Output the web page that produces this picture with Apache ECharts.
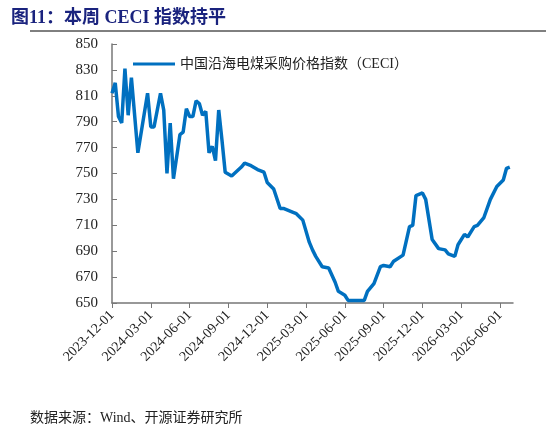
<!DOCTYPE html>
<html><head><meta charset="utf-8">
<script src="https://cdn.jsdelivr.net/npm/echarts@6/dist/echarts.min.js"></script>
<style>html,body{margin:0;padding:0;background:#fff}#c{width:546px;height:436px}</style>
</head><body><div id="c"></div>
<script>
// category axis: 4 slots per month (1st, 8th, 16th, 23rd), 2023-12 .. 2026-07-01
var slotDays = ['01','08','16','23'];
var categories = [];
(function(){var y=2023,m=12;while(true){for(var k=0;k<4;k++){var d=y+'-'+(m<10?'0'+m:m)+'-'+slotDays[k];categories.push(d);if(y===2026&&m===7)return;}m++;if(m>12){m=1;y++;}}})();
var pointIdx = [0,1,2,3,4,5,6,8,11,12,13,15,16,17,18,19,21,22,23,24,25,26,27,28,29,30,31,32,33,34,35,37,40,41,43,45,47,48,50,52,53,56,57,59,61,62,63,65,67,69,70,72,73,78,79,81,83,84,86,87,90,92,93,94,96,97,99,101,103,104,106,107,109,110,112,113,115,117,119,121,122,123];
var values = [812,820,794,789,831,795,824,766,812,786,786,812,799,750,789,746,780,782,800,794,794,806,804,795,798,766,771,760,799,776,751,748,755,758,756,753,751,743,738,723,723,720,719,714,697,691,686,678,677,666,659,656,652,652,659,665,678,679,678,682,687,709,710,733,735,730,699,692,691,688,686,695,703,701,709,710,716,730,740,745,754,755];
var yTicks = [650,850,20];
var seriesName = '中国沿海电煤采购价格指数（CECI）';
var chart = echarts.init(document.getElementById('c'));
var serif = '"Liberation Serif","Times New Roman",serif';
chart.setOption({
  animation:false,
  title:{text:'图11：本周 CECI 指数持平',left:6,top:4,textStyle:{color:'#1a237e',fontSize:18,fontWeight:'bold',fontFamily:'"Liberation Serif","Noto Sans CJK SC",serif'}},
  graphic:[{type:'line',shape:{x1:30,y1:31,x2:546,y2:31},style:{stroke:'#000',lineWidth:1}},
           {type:'text',left:30,top:411,style:{text:'数据来源：Wind、开源证券研究所',fill:'#222',font:'14px "Liberation Serif","Noto Sans CJK SC"'}}],
  legend:{left:128,top:52,itemWidth:42,itemHeight:3,icon:'rect',itemGap:6,textStyle:{fontSize:14,color:'#222',fontFamily:'"Liberation Serif","Noto Sans CJK SC",serif'},data:[seriesName]},
  grid:{left:112,right:33,top:44,bottom:133},
  xAxis:{type:'category',data:categories,boundaryGap:false,
    axisLine:{lineStyle:{color:'#777',width:1.5}},
    axisTick:{interval:function(i){return i%12===0;},lineStyle:{color:'#777'}},
    axisLabel:{interval:function(i){return i%12===0;},rotate:45,fontSize:14,color:'#222',fontFamily:serif,margin:10}},
  yAxis:{type:'value',min:yTicks[0],max:yTicks[1],interval:yTicks[2],
    axisLine:{show:true,lineStyle:{color:'#777',width:1.5}},axisTick:{show:true,inside:true,lineStyle:{color:'#777'}},
    splitLine:{show:false},axisLabel:{fontSize:15,color:'#222',fontFamily:serif,margin:14}},
  series:[{name:seriesName,type:'line',showSymbol:false,smooth:false,
    lineStyle:{color:'#0070c0',width:3.5},itemStyle:{color:'#0070c0'},
    data:pointIdx.map(function(i,k){return [categories[i],values[k]];})}]
});
</script></body></html>
